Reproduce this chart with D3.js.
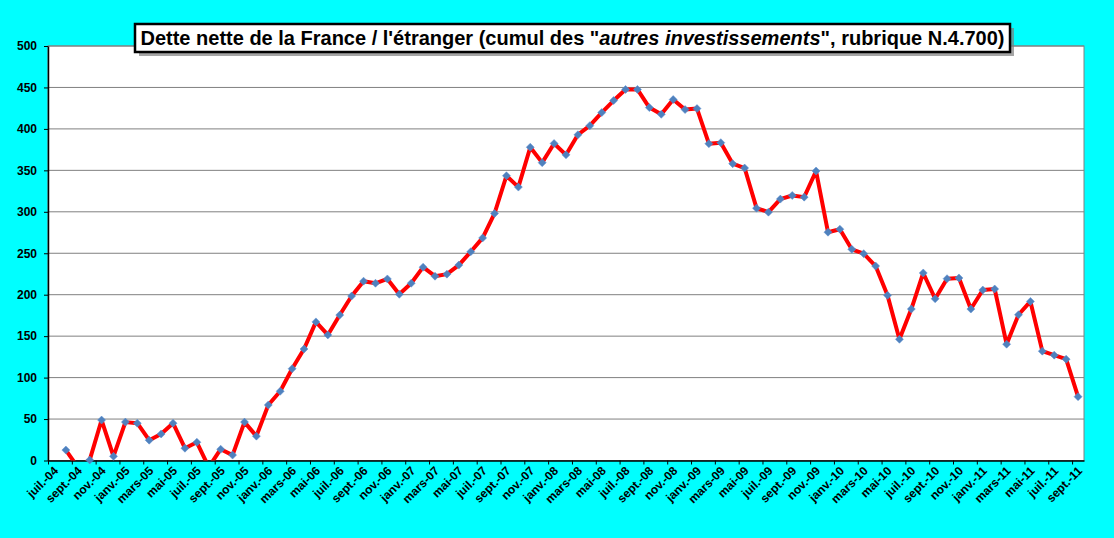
<!DOCTYPE html>
<html>
<head>
<meta charset="utf-8">
<script src="https://cdnjs.cloudflare.com/ajax/libs/d3/7.8.5/d3.min.js"></script>
<style>
    html, body { margin: 0; padding: 0; background: #00ffff; }
    svg { display: block; font-family: Arial, "Liberation Sans", sans-serif; }
</style>
</head>
<body>
<svg id="chart" width="1114" height="538"></svg>
<script>
'use strict';

// Month abbreviations as Excel writes them in French.
var monthNames = ['janv.', 'févr.', 'mars', 'avr.', 'mai', 'juin',
    'juil.', 'août', 'sept.', 'oct.', 'nov.', 'déc.'];

// First and last month of the series (juil.-04 .. sept.-11).
var startYear = 2004, startMonth = 6;
var monthCount = 87;

// Net debt, billions of euros.
// null = no value, negatives fall below the axis and are clipped.
var debtValues = [
    null, 12.6, -8, 0.5, 48.8, 5,
    46.3, 45, 24.5, 32, 45, 14.8, 22, -8, 13.6, 6.5, 46.3, 29.4,
    67, 83.5, 110.7, 134.5, 167.2, 151.5, 175.4, 198.4, 216.3, 213.8, 219, 200.5,
    213.8, 233.2, 222.3, 224.8, 235.7, 251.8, 268.5, 298, 343.5, 329.8, 377.9, 359.3,
    382.4, 368.7, 392.9, 403.9, 419.7, 434.2, 447.6, 447.6, 425.7, 417.6, 435.4, 423.3,
    424.5, 382.2, 383.4, 358, 352.8, 304.4, 299.6, 315.3, 319.7, 317.7, 349.2, 275.4,
    279, 254.8, 249.5, 234.6, 199.2, 146.2, 182.7, 226.2, 195.1, 219.3, 220.2, 182.7,
    205.6, 206.9, 140.3, 175.8, 191.9, 131.9, 127.1, 122.2, 77
];

var yTicks = [0, 50, 100, 150, 200, 250, 300, 350, 400, 450, 500];

var titleStart = 'Dette nette de la France / l\'étranger (cumul des "';
var titleItalic = 'autres investissements';
var titleEnd = '", rubrique N.4.700)';

// Category labels, one per month.
var categories = d3.range(monthCount).map(function(i) {
    var m = (startMonth + i) % 12;
    var yr = startYear + Math.floor((startMonth + i) / 12);
    return monthNames[m] + '-' + String(yr).slice(2);
});

var plot = {left: 48, right: 1084, top: 46, bottom: 460.5};

var svg = d3.select('#chart');

// Category axis: index i occupies [i, i+1], points sit at i + 0.5.
var x = d3.scaleLinear()
    .domain([0, monthCount])
    .range([plot.left, plot.right]);

var y = d3.scaleLinear()
    .domain([0, 500])
    .range([plot.bottom, plot.top]);

// Plot area.
svg.append('rect')
    .attr('x', plot.left)
    .attr('y', plot.top)
    .attr('width', plot.right - plot.left)
    .attr('height', plot.bottom - plot.top)
    .attr('fill', '#ffffff')
    .attr('stroke', '#808080')
    .attr('stroke-width', 1);

// Gridlines.
svg.append('g')
    .selectAll('line')
    .data(yTicks.slice(1))
    .enter().append('line')
    .attr('x1', plot.left)
    .attr('x2', plot.right)
    .attr('y1', function(d) { return y(d); })
    .attr('y2', function(d) { return y(d); })
    .attr('stroke', '#808080')
    .attr('stroke-width', 1);

// Y axis.
var yAxis = svg.append('g')
    .attr('transform', 'translate(' + plot.left + ',0)')
    .call(d3.axisLeft(y).tickValues(yTicks).tickSize(4).tickPadding(7).tickSizeOuter(0));
yAxis.select('.domain').attr('stroke', '#000').attr('stroke-width', 1.5);
yAxis.selectAll('.tick line').attr('stroke', '#000');
yAxis.selectAll('text')
    .attr('fill', '#000')
    .style('font-size', '12px')
    .style('font-weight', 'bold');

// X axis: tick marks every two categories, on the boundaries.
var xAxis = svg.append('g')
    .attr('transform', 'translate(0,' + plot.bottom + ')')
    .call(d3.axisBottom(x)
        .tickValues(d3.range(0, monthCount, 2))
        .tickSize(4)
        .tickSizeOuter(0)
        .tickFormat(''));
xAxis.select('.domain').attr('stroke', '#000').attr('stroke-width', 1.5);
xAxis.selectAll('.tick line').attr('stroke', '#000');

// Rotated labels, centred on every other category.
svg.append('g')
    .selectAll('text')
    .data(categories.filter(function(d, i) { return i % 2 === 0; }))
    .enter().append('text')
    .attr('transform', function(d, i) {
        return 'translate(' + (x(i * 2 + 0.5) + 2) + ',' + (plot.bottom + 8) + ') rotate(-45)';
    })
    .attr('text-anchor', 'end')
    .attr('dy', '0.35em')
    .style('font-size', '12px')
    .style('font-weight', 'bold')
    .text(function(d) { return d; });

// Series line, clipped to the plot area so negatives disappear.
svg.append('clipPath')
    .attr('id', 'plot-clip')
    .append('rect')
    .attr('x', plot.left)
    .attr('y', plot.top)
    .attr('width', plot.right - plot.left)
    .attr('height', plot.bottom - plot.top);

var line = d3.line()
    .defined(function(d) { return d !== null; })
    .x(function(d, i) { return x(i + 0.5); })
    .y(function(d) { return y(d); });

svg.append('path')
    .datum(debtValues)
    .attr('clip-path', 'url(#plot-clip)')
    .attr('fill', 'none')
    .attr('stroke', '#ff0000')
    .attr('stroke-width', 4)
    .attr('stroke-linejoin', 'round')
    .attr('d', line);

// Diamond markers, only for values inside the axis range.
var r = 4;
svg.append('g')
    .selectAll('path')
    .data(debtValues.map(function(d, i) { return {v: d, i: i}; })
        .filter(function(d) { return d.v !== null && d.v >= 0; }))
    .enter().append('path')
    .attr('d', 'M0,' + (-r) + 'L' + r + ',0L0,' + r + 'L' + (-r) + ',0Z')
    .attr('transform', function(d) {
        return 'translate(' + x(d.i + 0.5) + ',' + y(d.v) + ')';
    })
    .attr('fill', '#4f81bd')
    .attr('stroke', '#5b8fd0')
    .attr('stroke-width', 0.5);

// Title box with a drop shadow.
var box = {x: 135, y: 24, w: 875, h: 28};
svg.append('rect')
    .attr('x', box.x + 4)
    .attr('y', box.y + 4)
    .attr('width', box.w)
    .attr('height', box.h)
    .attr('fill', '#7f7f7f')
    .attr('opacity', 0.7);
svg.append('rect')
    .attr('x', box.x)
    .attr('y', box.y)
    .attr('width', box.w)
    .attr('height', box.h)
    .attr('fill', '#ffffff')
    .attr('stroke', '#000')
    .attr('stroke-width', 2.5);

var title = svg.append('text')
    .attr('x', box.x + box.w / 2)
    .attr('y', box.y + 21)
    .attr('text-anchor', 'middle')
    .style('font-size', '20px')
    .style('font-weight', 'bold');
title.append('tspan').text(titleStart);
title.append('tspan').style('font-style', 'italic').text(titleItalic);
title.append('tspan').text(titleEnd);
</script>
</body>
</html>
